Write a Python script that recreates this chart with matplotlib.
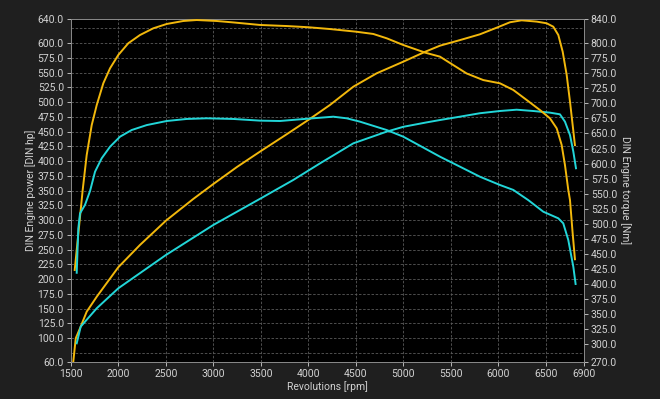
"""
Dyno chart: DIN engine power (left) and torque (right) for two runs.
"""

import numpy as np
import matplotlib
matplotlib.use("Agg")
import matplotlib.pyplot as plt

# ── Data ──────────────────────────────────────────────────────────────────────
yel_pow_rpm = [1526, 1552, 1604, 1667, 1773, 2000, 2228, 2502, 2789, 3000, 3250, 3492,
               3750, 4000, 4228, 4474, 4720, 5000, 5232, 5386, 5597, 5807, 5983, 6123,
               6246, 6404, 6509, 6579, 6632, 6678, 6720, 6755, 6783, 6807]
yel_pow_hp = [60, 99.6, 119.3, 144.6, 170, 220, 257.7, 299, 335.7, 361, 390, 416,
              443, 469.6, 495, 526, 548.7, 568.4, 585.3, 595.5, 605, 614.8, 626, 635.2,
              638.5, 636.3, 633.5, 627.7, 613.6, 585.3, 546, 500.6, 461, 427]

yel_trq_rpm = [1541, 1625, 1667, 1720, 1773, 1842, 1913, 2000, 2105, 2228, 2368, 2509,
               2684, 2825, 3036, 3211, 3491, 3773, 4000, 4228, 4502, 4684, 4825, 5000,
               5232, 5386, 5526, 5667, 5842, 6018, 6158, 6299, 6439, 6544, 6615, 6667,
               6702, 6737, 6755, 6783, 6807]
yel_trq_nm = [422.6, 556, 614, 664, 697.5, 733.6, 758.6, 780.8, 800.3, 814, 825.2, 832.4,
              837.4, 839, 837.4, 835, 830.8, 829, 827, 824, 819.6, 815.8, 808.6, 797.4,
              784.6, 778, 764, 750, 739, 733.6, 722.5, 705.8, 689, 675.3, 658.6, 631,
              597.5, 556, 539, 483.8, 440.5]

cya_pow_rpm = [1562, 1579, 1604, 1773, 2000, 2502, 3000, 3502, 3842, 4123, 4474, 4825,
               5000, 5246, 5386, 5597, 5807, 6018, 6193, 6368, 6544, 6649, 6702, 6755,
               6790, 6818]
cya_pow_hp = [91, 102.3, 119.3, 150.4, 184.3, 240.8, 291.6, 336.9, 367.9, 396, 430, 449.8,
              458, 465.5, 469.5, 475.2, 481, 484.8, 487, 484.8, 482, 479.2, 466.7, 444,
              416, 387.7]

cya_trq_rpm = [1562, 1579, 1597, 1649, 1702, 1755, 1825, 1913, 2018, 2141, 2299, 2509,
               2720, 2930, 3211, 3492, 3702, 3912, 4263, 4404, 4544, 4825, 5000, 5246,
               5386, 5597, 5807, 6018, 6158, 6316, 6474, 6632, 6684, 6737, 6790, 6814]
cya_trq_nm = [418, 492, 517, 531, 554, 586.4, 608.7, 628, 644.7, 655.8, 664, 670.8,
              674.2, 675.3, 674.2, 671.4, 670.8, 673.6, 678, 675.3, 669.7, 655.8, 644.7, 623.5,
              611.4, 594.7, 578, 564.2, 556, 539, 519.7, 508.7, 500.4, 472.6, 428, 399.3]

x_ticks = [1500, 2000, 2500, 3000, 3500, 4000, 4500, 5000, 5500, 6000, 6500, 6900]
pow_ticks = [60] + list(range(100, 601, 25)) + [640]
trq_ticks = [270] + list(range(300, 801, 25)) + [840]
pow_grid = list(range(75, 626, 25))

# ── Style ─────────────────────────────────────────────────────────────────────
BG       = "#1f1f1f"
PLOT_BG  = "#000000"
TXT      = "#d2d2d2"
YELLOW   = "#f2b80c"
CYAN     = "#22d6d8"
LW       = 1.4
FS       = 7.5

plt.rcParams["font.family"] = ["Roboto", "DejaVu Sans"]

fig = plt.figure(figsize=(6.6, 3.99), dpi=100, facecolor=BG)
ax = fig.add_axes([0.1073, 0.0937, 0.7772, 0.8576])
ax.set_facecolor(PLOT_BG)
ax2 = ax.twinx()

ax.set_xlim(1500, 6900)
ax.set_ylim(60, 640)
ax2.set_ylim(270, 840)

# grid (dashed, drawn on the power axis)
for v in pow_grid:
    ax.axhline(v, color="#5a5a5a", lw=0.6, ls=(0, (3, 2)), zorder=0)
for v in x_ticks[1:-1]:
    ax.axvline(v, color="#5a5a5a", lw=0.6, ls=(0, (3, 2)), zorder=0)

ax.plot(yel_pow_rpm, yel_pow_hp, color=YELLOW, lw=LW, zorder=3)
ax.plot(cya_pow_rpm, cya_pow_hp, color=CYAN, lw=LW, zorder=3)
ax2.plot(yel_trq_rpm, yel_trq_nm, color=YELLOW, lw=LW, zorder=3)
ax2.plot(cya_trq_rpm, cya_trq_nm, color=CYAN, lw=LW, zorder=3)

ax.set_xticks(x_ticks)
ax.set_xticklabels([str(t) for t in x_ticks])
ax.set_yticks(pow_ticks)
ax.set_yticklabels([f"{t:.1f}" for t in pow_ticks])
ax2.set_yticks(trq_ticks)
ax2.set_yticklabels([f"{t:.1f}" for t in trq_ticks])

for a in (ax, ax2):
    a.tick_params(colors=TXT, labelsize=FS, length=3, width=0.6, pad=2)
    for s in a.spines.values():
        s.set_color("#8a8a8a")
        s.set_linewidth(0.6)

ax.set_xlabel("Revolutions [rpm]", color=TXT, fontsize=FS, labelpad=2)
ax.set_ylabel("DIN Engine power [DIN hp]", color=TXT, fontsize=FS, labelpad=1)
ax2.set_ylabel("DIN Engine torque [Nm]", color=TXT, fontsize=FS, rotation=270, labelpad=10)

fig.savefig("out.png", dpi=100, facecolor=BG)
